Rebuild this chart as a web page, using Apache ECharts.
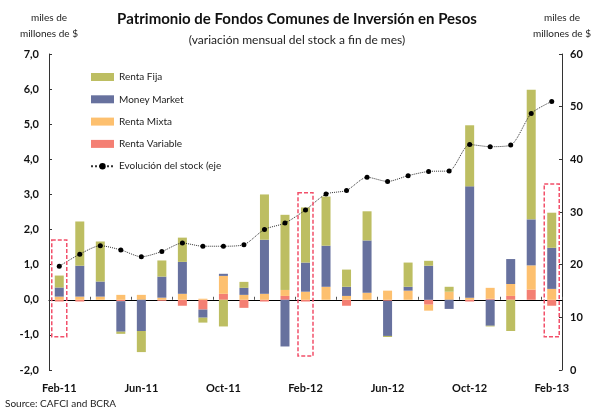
<!DOCTYPE html>
<html>
<head>
<meta charset="utf-8">
<script src="https://cdn.jsdelivr.net/npm/echarts@6/dist/echarts.min.js"></script>
<style>
html, body { margin: 0; padding: 0; background: #fff; }
#chart { width: 594px; height: 414px; }
</style>
</head>
<body>
<div id="chart"></div>
<script>
var months = ['Feb-11','Mar-11','Apr-11','May-11','Jun-11','Jul-11','Aug-11','Sep-11','Oct-11','Nov-11','Dec-11','Jan-12',
              'Feb-12','Mar-12','Apr-12','May-12','Jun-12','Jul-12','Aug-12','Sep-12','Oct-12','Nov-12','Dec-12','Jan-13','Feb-13'];

// variación mensual (miles de millones de $)
var rentaVariable = [-0.05,-0.05,0.00,-0.04,0.00,-0.03,-0.17,-0.28,0.17,-0.23,-0.05,0.11,-0.05,0.00,-0.17,0.00,-0.03,0.00,-0.14,0.00,-0.05,0.03,0.11,0.29,-0.17];
var rentaMixta    = [0.09,0.09,0.09,0.14,0.14,0.06,0.17,0.03,0.51,0.14,0.17,0.17,0.23,0.37,0.11,0.20,0.26,0.26,-0.17,0.23,0.06,0.31,0.34,0.69,0.31];
var moneyMarket   = [0.26,0.88,0.43,-0.87,-0.89,0.60,0.91,-0.23,0.06,0.20,1.54,-1.33,0.83,1.17,0.26,1.49,-1.00,0.11,0.97,-0.26,3.17,-0.74,0.71,1.31,1.17];
var rentaFija     = [0.34,1.26,1.14,-0.06,-0.60,0.46,0.69,-0.14,-0.76,0.17,1.29,2.14,1.57,1.40,0.49,0.83,-0.03,0.69,0.14,0.14,1.74,-0.02,-0.89,3.69,1.00];

// stock a fin de mes (eje derecho)
var stock = [19.7,22.0,23.6,22.8,21.5,22.5,24.1,23.5,23.5,23.8,26.7,27.9,30.4,33.4,34.1,36.6,35.8,36.9,37.7,37.8,42.8,42.4,42.7,48.7,51.0];

// meses resaltados con recuadro punteado: [mes, tope, base] en escala izquierda
var highlights = [['Feb-11', 1.7, -1.05], ['Feb-12', 3.05, -1.6], ['Feb-13', 3.3, -1.05]];

var FONT = 'Lato, "DejaVu Sans", sans-serif';

var chart = echarts.init(document.getElementById('chart'));

function barSeries(name, data, color) {
    return {
        name: name,
        type: 'bar',
        stack: 'fci',
        xAxisIndex: 0,
        yAxisIndex: 0,
        barWidth: 9,
        itemStyle: { color: color },
        data: data
    };
}

var option = {
    animation: false,
    backgroundColor: '#fff',
    title: {
        text: 'Patrimonio de Fondos Comunes de Inversión en Pesos',
        subtext: '(variación mensual del stock a fin de mes)',
        left: 'center',
        top: 7,
        itemGap: 7,
        textStyle: { fontFamily: FONT, fontSize: 15, fontWeight: 'bold', color: '#111' },
        subtextStyle: { fontFamily: FONT, fontSize: 12, color: '#222' }
    },
    legend: {
        orient: 'vertical',
        left: 85,
        top: 67,
        itemWidth: 23,
        itemHeight: 8,
        itemGap: 12.3,
        textStyle: { fontFamily: FONT, fontSize: 10, color: '#222' },
        data: [
            { name: 'Renta Fija', icon: 'rect' },
            { name: 'Money Market', icon: 'rect' },
            { name: 'Renta Mixta', icon: 'rect' },
            { name: 'Renta Variable', icon: 'rect' },
            { name: 'Evolución del stock (eje' }
        ]
    },
    grid: { left: 49, right: 25, top: 54, bottom: 44 },
    xAxis: [
        {
            type: 'category',
            data: months,
            position: 'bottom',
            axisLine: { show: false, onZero: false },
            axisTick: { show: false },
            axisLabel: {
                interval: 3,
                margin: 13,
                fontFamily: FONT,
                fontSize: 11,
                fontWeight: 'bold',
                color: '#111'
            }
        },
        {
            type: 'category',
            data: months,
            position: 'top',
            axisLine: { onZero: true, lineStyle: { color: '#000', width: 1 } },
            axisTick: {
                show: true,
                length: 3,
                interval: function (i) { return i > 0 && i % 2 === 0; },
                lineStyle: { color: '#555' }
            },
            axisLabel: { show: false }
        }
    ],
    yAxis: [
        {
            type: 'value',
            min: -2,
            max: 7,
            interval: 1,
            name: 'miles de\nmillones de $',
            nameLocation: 'end',
            nameGap: 12,
            nameTextStyle: { fontFamily: FONT, fontSize: 10, color: '#222', lineHeight: 16, align: 'center' },
            splitLine: { show: false },
            axisLine: { show: true, lineStyle: { color: '#333' } },
            axisTick: { show: true, inside: true, length: 3, lineStyle: { color: '#333' } },
            axisLabel: {
                margin: 10,
                fontFamily: FONT,
                fontSize: 11,
                fontWeight: 'bold',
                color: '#111',
                formatter: function (v) { return v.toFixed(1).replace('.', ','); }
            }
        },
        {
            type: 'value',
            min: 0,
            max: 60,
            interval: 10,
            name: 'miles de\nmillones de $',
            nameLocation: 'end',
            nameGap: 12,
            nameTextStyle: { fontFamily: FONT, fontSize: 10, color: '#222', lineHeight: 16, align: 'center' },
            splitLine: { show: false },
            axisLine: { show: true, lineStyle: { color: '#333' } },
            axisTick: { show: true, inside: true, length: 3, lineStyle: { color: '#333' } },
            axisLabel: {
                margin: 8,
                fontFamily: FONT,
                fontSize: 11,
                fontWeight: 'bold',
                color: '#111'
            }
        }
    ],
    series: [
        barSeries('Renta Variable', rentaVariable, '#F47F73'),
        barSeries('Renta Mixta', rentaMixta, '#FDC06F'),
        barSeries('Money Market', moneyMarket, '#67719E'),
        barSeries('Renta Fija', rentaFija, '#BDBE62'),
        {
            name: 'Evolución del stock (eje',
            type: 'line',
            xAxisIndex: 0,
            yAxisIndex: 1,
            smooth: 0.25,
            symbol: 'circle',
            symbolSize: 5,
            itemStyle: { color: '#000' },
            lineStyle: { color: '#333', width: 1, type: 'dotted' },
            z: 5,
            data: stock
        }
    ],
    graphic: [
        {
            type: 'text',
            left: 5,
            top: 399,
            style: { text: 'Source: CAFCI and BCRA', font: '10px ' + FONT, fill: '#222' }
        }
    ]
};

chart.setOption(option);

// recuadros punteados alrededor de los meses de febrero
var boxes = highlights.map(function (h) {
    var top = chart.convertToPixel({ xAxisIndex: 0, yAxisIndex: 0 }, [h[0], h[1]]);
    var bot = chart.convertToPixel({ xAxisIndex: 0, yAxisIndex: 0 }, [h[0], h[2]]);
    return {
        type: 'rect',
        z: 10,
        shape: { x: top[0] - 7.5, y: top[1], width: 15, height: bot[1] - top[1] },
        style: { fill: 'none', stroke: '#F2506A', lineWidth: 1.5, lineDash: [4, 2] }
    };
});
chart.setOption({ graphic: option.graphic.concat(boxes) });

window.addEventListener('resize', function () {
    chart.resize();
});
</script>
</body>
</html>
